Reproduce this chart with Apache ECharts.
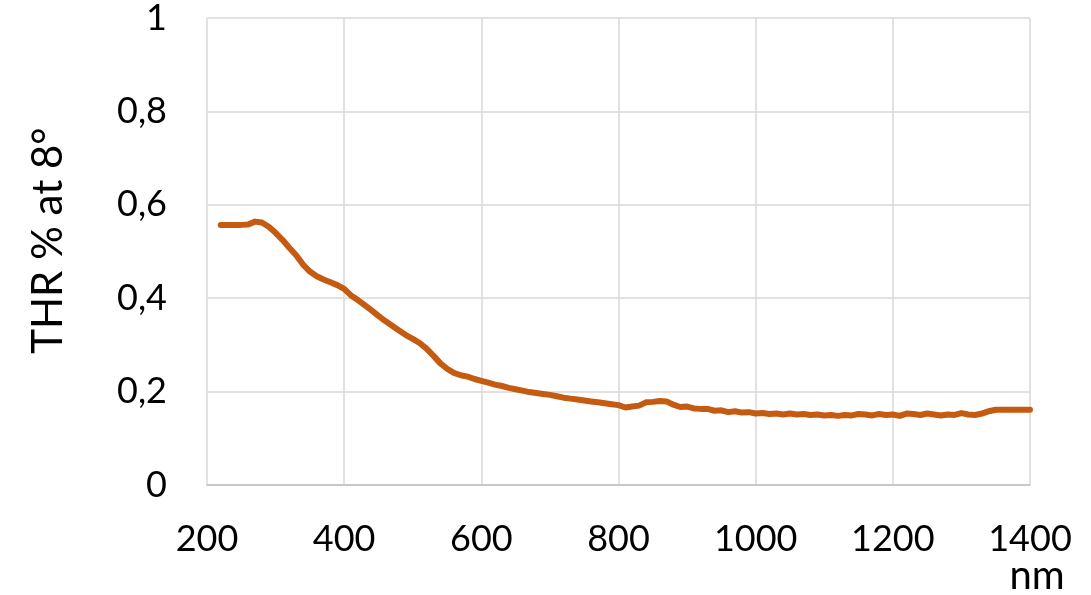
<!DOCTYPE html>
<html>
<head>
<meta charset="utf-8">
<script src="https://cdn.jsdelivr.net/npm/echarts@6/dist/echarts.min.js"></script>
<style>
html,body{margin:0;padding:0;background:#fff;}
#chart{width:1091px;height:595px;}
</style>
</head>
<body>
<div id="chart"></div>
<script>
// Wavelength (nm)
const wavelengths = [
220,230,240,250,260,270,280,290,300,310,320,330,340,350,360,370,380,390,400,
410,420,430,440,450,460,470,480,490,500,510,520,530,540,550,560,570,580,590,600,
610,620,630,640,650,660,670,680,690,700,710,720,730,740,750,760,770,780,790,800,
810,820,830,840,850,860,870,880,890,900,910,920,930,940,950,960,970,980,990,1000,
1010,1020,1030,1040,1050,1060,1070,1080,1090,1100,1110,1120,1130,1140,1150,1160,1170,1180,1190,1200,
1210,1220,1230,1240,1250,1260,1270,1280,1290,1300,1310,1320,1330,1340,1350,1360,1370,1380,1390,1400
];
// THR values
const thrValues = [
0.557,0.557,0.557,0.557,0.558,0.564,0.562,0.553,0.540,0.525,0.508,0.492,0.472,0.457,0.447,0.440,0.434,0.428,0.420,
0.406,0.396,0.385,0.374,0.362,0.351,0.341,0.331,0.321,0.313,0.304,0.292,0.277,0.261,0.249,0.240,0.235,0.232,0.227,0.223,
0.219,0.215,0.212,0.208,0.205,0.202,0.199,0.197,0.195,0.193,0.190,0.187,0.185,0.183,0.181,0.179,0.177,0.175,0.173,0.171,
0.166,0.168,0.170,0.177,0.178,0.180,0.179,0.172,0.167,0.168,0.164,0.163,0.163,0.159,0.160,0.156,0.158,0.155,0.156,0.153,
0.154,0.152,0.153,0.151,0.153,0.151,0.152,0.150,0.151,0.149,0.150,0.148,0.150,0.149,0.152,0.151,0.149,0.152,0.150,0.151,
0.148,0.153,0.152,0.150,0.153,0.151,0.149,0.151,0.150,0.154,0.151,0.150,0.153,0.158,0.161,0.161,0.161,0.161,0.161,0.161
];
const xTicks = [200,400,600,800,1000,1200,1400];
const yTicks = [0,0.2,0.4,0.6,0.8,1];

const FONT = 'Lato';
const chart = echarts.init(document.getElementById('chart'), null, {renderer:'canvas'});
chart.setOption({
  animation:false,
  backgroundColor:'#ffffff',
  grid:{left:207, right:61, top:18, bottom:110, containLabel:false},
  xAxis:{
    type:'value', min:200, max:1400, interval:200,
    axisLine:{show:true, lineStyle:{color:'#bfbfbf', width:1.5}},
    axisTick:{show:false},
    splitLine:{show:true, lineStyle:{color:'#d9d9d9', width:1.5}},
    axisLabel:{margin:36, color:'#000', fontFamily:FONT, fontSize:36,
      formatter:v=> xTicks.includes(v) ? String(v) : ''}
  },
  yAxis:{
    type:'value', min:0, max:1, interval:0.2,
    name:'THR % at 8°', nameLocation:'middle', nameGap:138,
    nameTextStyle:{color:'#000', fontFamily:FONT, fontSize:42, padding:[0,0,0,22]},
    axisLine:{show:false},
    axisTick:{show:false},
    splitLine:{show:true, lineStyle:{color:'#d9d9d9', width:1.5}},
    axisLabel:{margin:40, color:'#000', fontFamily:FONT, fontSize:36,
      formatter:v=>{ const t = yTicks.find(y=>Math.abs(y-v)<1e-9); return t===undefined ? '' : String(t).replace('.', ','); }}
  },
  graphic:[{type:'text', x:1037, y:576, style:{text:'nm', fontFamily:FONT, fontSize:40, fill:'#000', textAlign:'center', textVerticalAlign:'middle'}}],
  series:[{
    type:'line', showSymbol:false, smooth:false,
    data: wavelengths.map((w,i)=>[w, thrValues[i]]),
    lineStyle:{color:'#C55A11', width:6, cap:'round', join:'round'}
  }]
});
</script>
</body>
</html>
